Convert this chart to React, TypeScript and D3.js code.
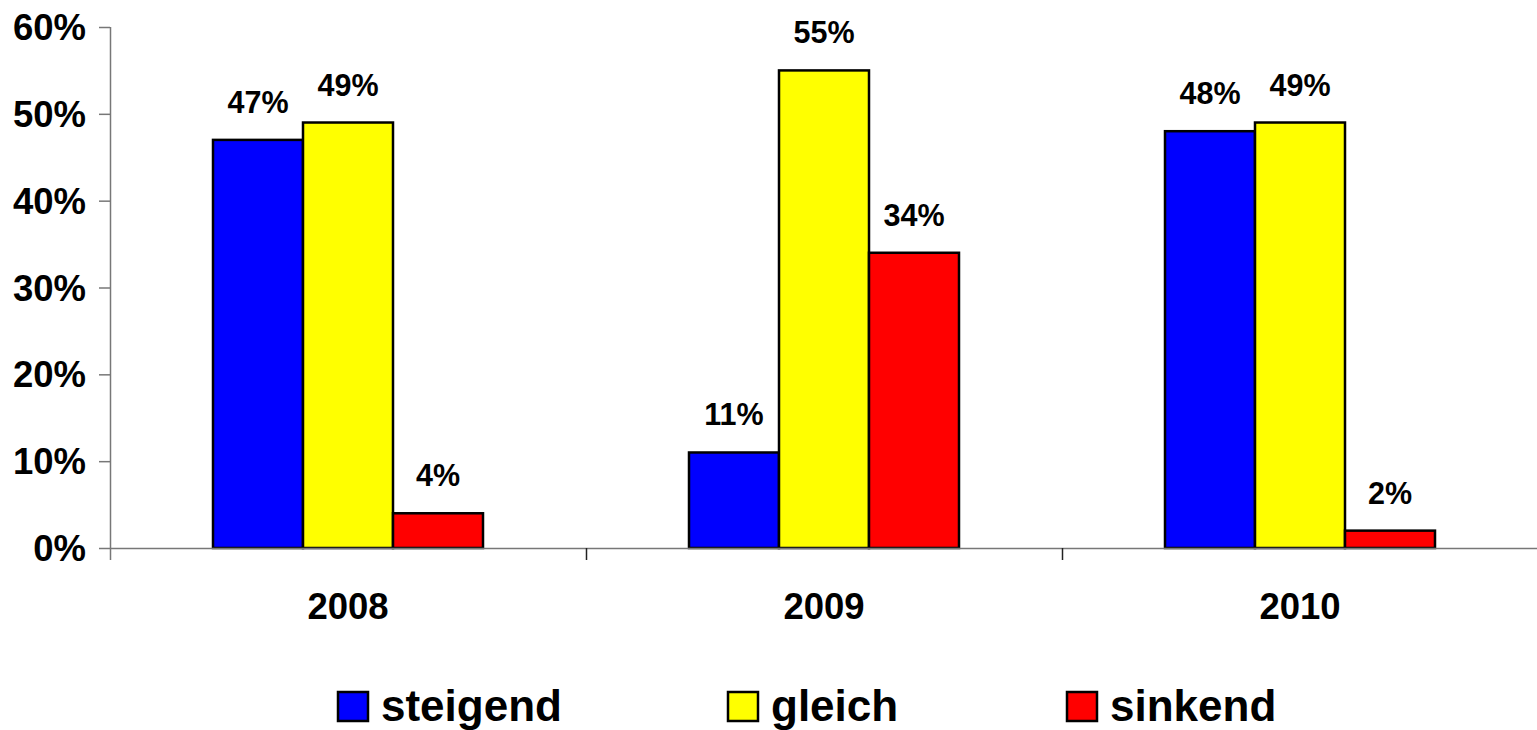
import React from "react";
import * as d3 from "d3";

const categories = ["2008", "2009", "2010"];
const seriesNames = ["steigend", "gleich", "sinkend"];
const steigend = [47, 11, 48];
const gleich = [49, 55, 49];
const sinkend = [4, 34, 2];
const yTicks = [0, 10, 20, 30, 40, 50, 60];
const colors = ["#0000ff", "#ffff00", "#ff0000"];

const W = 1537;
const H = 730;
const FONT = "'Liberation Sans', Arial, sans-serif";

export default function App() {
  const series = [steigend, gleich, sinkend];
  const y = d3.scaleLinear().domain([0, 60]).range([548, 27]);
  const x = d3.scaleBand<string>().domain(categories).range([110, 1538]).paddingInner(0).paddingOuter(0);
  const bw = 90;
  const inner = d3.scaleBand<string>().domain(seriesNames).range([0, bw * 3]);
  const legendX = [338, 728, 1067];
  return (
    <div style={{ position: "fixed", left: 0, top: 0 }}>
      <svg width={W} height={H} style={{ display: "block" }} fontFamily={FONT} fontWeight="bold">
        <rect x={0} y={0} width={W} height={H} fill="#fff" />
        {/* y axis */}
        <line x1={110.5} x2={110.5} y1={27} y2={560} stroke="#777" strokeWidth={1.5} />
        {yTicks.map((t) => (
          <g key={t}>
            <line x1={99} x2={110} y1={y(t) + 0.5} y2={y(t) + 0.5} stroke="#777" strokeWidth={1.5} />
            <text x={86} y={y(t)} dy="0.36em" textAnchor="end" fontSize={36.5}>
              {t}%
            </text>
          </g>
        ))}
        {/* bars */}
        {categories.map((c, ci) => {
          const cx = (x(c) as number) + x.bandwidth() / 2;
          const gx = cx - (bw * 3) / 2;
          return (
            <g key={c}>
              {series.map((s, si) => {
                const bx = gx + (inner(seriesNames[si]) as number);
                const by = y(s[ci]);
                return (
                  <g key={si}>
                    <rect x={bx} y={by} width={bw} height={548 - by} fill={colors[si]} stroke="#000" strokeWidth={2.5} />
                    <text x={bx + bw / 2} y={by - 27} textAnchor="middle" fontSize={30.5}>
                      {s[ci]}%
                    </text>
                  </g>
                );
              })}
              <text x={cx} y={619} textAnchor="middle" fontSize={36.5}>
                {c}
              </text>
            </g>
          );
        })}
        {/* x axis */}
        <line x1={110} x2={1537} y1={548.5} y2={548.5} stroke="#777" strokeWidth={1.5} />
        {categories.slice(1).map((c) => (
          <line key={c} x1={(x(c) as number) + 0.5} x2={(x(c) as number) + 0.5} y1={548} y2={560} stroke="#222" strokeWidth={1.5} />
        ))}
        {/* legend */}
        {seriesNames.map((n, i) => (
          <g key={n}>
            <rect x={legendX[i]} y={692} width={30} height={29} fill={colors[i]} stroke="#000" strokeWidth={2.5} />
            <text x={legendX[i] + 43} y={721} fontSize={44}>
              {n}
            </text>
          </g>
        ))}
      </svg>
    </div>
  );
}
